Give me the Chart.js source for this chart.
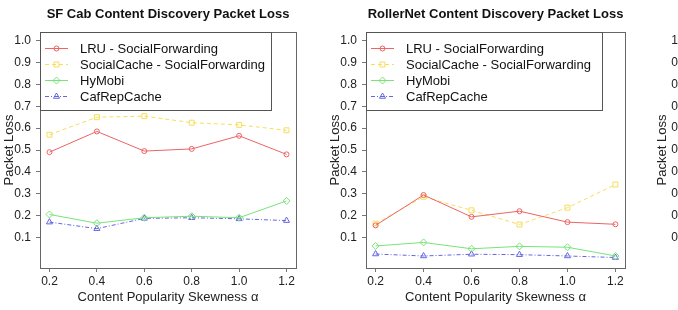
<!DOCTYPE html>
<html>
<head>
<meta charset="utf-8">
<script src="https://cdn.jsdelivr.net/npm/chart.js@4/dist/chart.umd.min.js"></script>
<style>
  html, body { margin: 0; padding: 0; background: #fff; }
  body { width: 678px; height: 310px; overflow: hidden; position: relative; }
  canvas { position: absolute; top: 0; }
</style>
</head>
<body>
<canvas id="c1" width="330" height="310" style="left:0px"></canvas>
<canvas id="c2" width="330" height="310" style="left:326px"></canvas>
<canvas id="c3" width="330" height="310" style="left:653px"></canvas>
<script>
// ---- data ----
const alphaValues = [0.2, 0.4, 0.6, 0.8, 1.0, 1.2];
const xTickLabels = ['0.2', '0.4', '0.6', '0.8', '1.0', '1.2'];
const yTickValues = [0.1, 0.2, 0.3, 0.4, 0.5, 0.6, 0.7, 0.8, 0.9, 1.0];
const yTickLabels = ['0.1', '0.2', '0.3', '0.4', '0.5', '0.6', '0.7', '0.8', '0.9', '1.0'];
const seriesNames = ['LRU - SocialForwarding', 'SocialCache - SocialForwarding', 'HyMobi', 'CafRepCache'];
const chartTitles = ['SF Cab Content Discovery Packet Loss', 'RollerNet Content Discovery Packet Loss', ''];
const xAxisTitle = 'Content Popularity Skewness \u03b1';
const yAxisTitle = 'Packet Loss';

// SF Cab
const sfLRU         = [0.490, 0.585, 0.495, 0.505, 0.565, 0.480];
const sfSocialCache = [0.570, 0.650, 0.655, 0.625, 0.615, 0.590];
const sfHyMobi      = [0.205, 0.165, 0.190, 0.197, 0.190, 0.267];
const sfCafRep      = [0.170, 0.140, 0.187, 0.190, 0.185, 0.177];
// RollerNet
const rnLRU         = [0.155, 0.294, 0.194, 0.220, 0.170, 0.160];
const rnSocialCache = [0.163, 0.286, 0.224, 0.159, 0.236, 0.342];
const rnHyMobi      = [0.061, 0.077, 0.048, 0.059, 0.055, 0.015];
const rnCafRep      = [0.024, 0.015, 0.023, 0.021, 0.015, 0.008];

// ---- styles ----
const FONT = '"Liberation Sans", Arial, Helvetica, sans-serif';
const seriesStyles = [
  { color: 'rgb(236,100,100)', dash: [], point: 'circle', r: 2.5 },
  { color: 'rgb(246,222,90)', dash: [4, 3], point: 'rect', r: 3.5 },
  { color: 'rgb(120,228,120)', dash: [], point: 'rectRot', r: 3.5 },
  { color: 'rgb(100,100,228)', dash: [4, 2, 1, 2], point: 'triangle', r: 3.5 }
];

function drawMarker(ctx, style, x, y, r) {
  ctx.beginPath();
  if (style === 'circle') {
    ctx.arc(x, y, r, 0, Math.PI * 2);
  } else if (style === 'rect') {
    const s = r * Math.SQRT1_2;
    ctx.rect(x - s, y - s, 2 * s, 2 * s);
  } else if (style === 'rectRot') {
    ctx.moveTo(x, y - r); ctx.lineTo(x + r, y); ctx.lineTo(x, y + r); ctx.lineTo(x - r, y); ctx.closePath();
  } else if (style === 'triangle') {
    const w = r * Math.sqrt(3);
    ctx.moveTo(x, y - r); ctx.lineTo(x + w / 2, y + r / 2); ctx.lineTo(x - w / 2, y + r / 2); ctx.closePath();
  }
  ctx.stroke();
}

const decorPlugin = {
  id: 'decor',
  afterDatasetsDraw(chart, args, opts) {
    const { ctx, chartArea: a } = chart;
    ctx.save();
    // frame around plot region
    ctx.strokeStyle = '#666';
    ctx.lineWidth = 1;
    ctx.setLineDash([]);
    ctx.strokeRect(Math.round(a.left) + 0.5, Math.round(a.top) + 0.5,
                   Math.round(a.right - a.left), Math.round(a.bottom - a.top));
    // title
    if (opts.title) {
      ctx.fillStyle = '#111';
      ctx.font = 'bold 13px ' + FONT;
      ctx.textAlign = 'center';
      ctx.textBaseline = 'middle';
      ctx.fillText(opts.title, (a.left + a.right) / 2, 14);
    }
    // legend (inside top-left corner)
    const ds = chart.data.datasets;
    if (ds.length) {
      ctx.font = '13px ' + FONT;
      const maxW = Math.max(...ds.map(d => ctx.measureText(d.label).width));
      const x0 = Math.round(a.left) + 0.5, y0 = Math.round(a.top) + 0.5;
      const w = Math.round(40 + maxW + (opts.legendExtra || 6)), h = 78;
      ctx.fillStyle = '#fff';
      ctx.fillRect(x0, y0, w, h);
      ctx.strokeStyle = '#555';
      ctx.strokeRect(x0, y0, w, h);
      ds.forEach((d, i) => {
        const y = Math.round(a.top + 16 + 16 * i) + 0.5;
        ctx.strokeStyle = d.borderColor;
        ctx.lineWidth = 1;
        ctx.setLineDash(d.borderDash || []);
        ctx.beginPath();
        ctx.moveTo(a.left + 5, y);
        ctx.lineTo(a.left + 28, y);
        ctx.stroke();
        ctx.setLineDash([]);
        drawMarker(ctx, d.pointStyle, a.left + 16.5, y, d.pointRadius);
        ctx.fillStyle = '#111';
        ctx.textAlign = 'left';
        ctx.textBaseline = 'middle';
        ctx.fillText(d.label, a.left + 40, y + 1);
      });
    }
    ctx.restore();
  }
};

function buildDatasets(seriesList) {
  return seriesList.map((vals, i) => ({
    label: seriesNames[i],
    data: alphaValues.map((x, j) => ({ x: x, y: vals[j] })),
    borderColor: seriesStyles[i].color,
    backgroundColor: 'rgba(0,0,0,0)',
    pointBackgroundColor: 'rgba(0,0,0,0)',
    pointBorderColor: seriesStyles[i].color,
    borderDash: seriesStyles[i].dash,
    borderWidth: 1,
    pointBorderWidth: 1,
    pointStyle: seriesStyles[i].point,
    pointRadius: seriesStyles[i].r,
    tension: 0
  }));
}

function makeChart(id, title, seriesList, rightPad, yWidth, legendExtra) {
  return new Chart(document.getElementById(id), {
    type: 'line',
    data: { datasets: buildDatasets(seriesList) },
    plugins: [decorPlugin],
    options: {
      responsive: false,
      animation: false,
      events: [],
      layout: { padding: { top: 32, left: 0, right: rightPad, bottom: 0 } },
      plugins: {
        legend: { display: false },
        title: { display: false },
        tooltip: { enabled: false },
        decor: { title: title, legendExtra: legendExtra }
      },
      scales: {
        x: {
          type: 'linear',
          min: 0.16, max: 1.24,
          afterBuildTicks: s => { s.ticks = alphaValues.map(v => ({ value: v })); },
          afterFit: s => { s.height = 42; },
          ticks: {
            autoSkip: false, maxRotation: 0, padding: 2,
            color: '#222', font: { family: FONT, size: 12 },
            callback: (v, i) => xTickLabels[i]
          },
          grid: { drawOnChartArea: false, drawTicks: true, tickLength: 4, color: '#777' },
          border: { display: false },
          title: {
            display: true, text: xAxisTitle, color: '#222',
            font: { family: FONT, size: 13 }, padding: { top: 0, bottom: 5 }
          }
        },
        y: {
          min: -0.04, max: 1.04,
          afterBuildTicks: s => { s.ticks = yTickValues.map(v => ({ value: v })); },
          afterFit: s => { s.width = yWidth; },
          ticks: {
            autoSkip: false, padding: 5,
            color: '#222', font: { family: FONT, size: 12 },
            callback: (v, i) => yTickLabels[i]
          },
          grid: { drawOnChartArea: false, drawTicks: true, tickLength: 4, color: '#777' },
          border: { display: false },
          title: {
            display: true, text: yAxisTitle, color: '#222',
            font: { family: FONT, size: 13 }, padding: { top: 2, bottom: 0 }
          }
        }
      }
    }
  });
}

makeChart('c1', chartTitles[0], [sfLRU, sfSocialCache, sfHyMobi, sfCafRep], 34, 40, 6);
makeChart('c2', chartTitles[1], [rnLRU, rnSocialCache, rnHyMobi, rnCafRep], 31, 40, 11);
makeChart('c3', chartTitles[2], [], 31, 44, 6);
</script>
</body>
</html>
